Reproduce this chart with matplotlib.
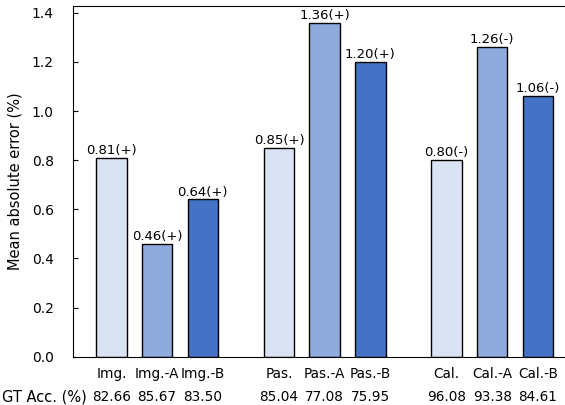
import matplotlib
matplotlib.use("Agg")
import matplotlib.pyplot as plt
import numpy as np

# Mean absolute error per model variant, grouped by task
groups = ["Img.", "Pas.", "Cal."]
variants = ["", "-A", "-B"]
mae = [0.81, 0.46, 0.64, 0.85, 1.36, 1.20, 0.80, 1.26, 1.06]
signs = ["+", "+", "+", "+", "+", "+", "-", "-", "-"]
gt_acc = ["82.66", "85.67", "83.50", "85.04", "77.08", "75.95", "96.08", "93.38", "84.61"]
colors = ["#dae3f3", "#8faadc", "#4472c4"]

plt.rcParams["font.family"] = "DejaVu Sans"
fs_bar = 9.5
fs_xtick = 9.8
fs_ytick = 10
fs_label = 10.5

fig = plt.figure(figsize=(5.65, 4.05), dpi=100)
ax = fig.add_axes([0.1298, 0.1193, 0.8897, 0.866])

group_pos = np.arange(len(groups)) * 1.1
offsets = np.array([-0.3, 0.0, 0.3])
positions = (group_pos[:, None] + offsets[None, :]).ravel()
bar_colors = colors * len(groups)
labels = [f"{g[:-1]}.{v}" if v else g for g in groups for v in variants]

ax.bar(positions, mae, width=0.2, color=bar_colors, edgecolor="black", linewidth=1.0)
for x, v, s in zip(positions, mae, signs):
    ax.text(x, v + 0.004, f"{v:.2f}({s})", ha="center", va="bottom", fontsize=fs_bar)

ax.set_xlim(-0.55, 2.75)
ax.set_ylim(0, 1.36 * 1.05)
ax.set_yticks(np.arange(0, 1.41, 0.2))
ax.yaxis.set_major_formatter(matplotlib.ticker.FormatStrFormatter("%.1f"))
ax.set_xticks(positions)
ax.set_xticklabels([f"{l}\n{a}" for l, a in zip(labels, gt_acc)], fontsize=fs_xtick, linespacing=1.83)
ax.tick_params(axis="x", length=0, pad=7.5)
ax.tick_params(axis="y", direction="in", labelsize=fs_ytick, pad=14)
ax.set_ylabel("Mean absolute error (%)", fontsize=fs_label, labelpad=6.5)

fig.text(0.004, 0.0198, "GT Acc. (%)", ha="left", va="center", fontsize=10.5)

fig.savefig("out.png", dpi=100)
